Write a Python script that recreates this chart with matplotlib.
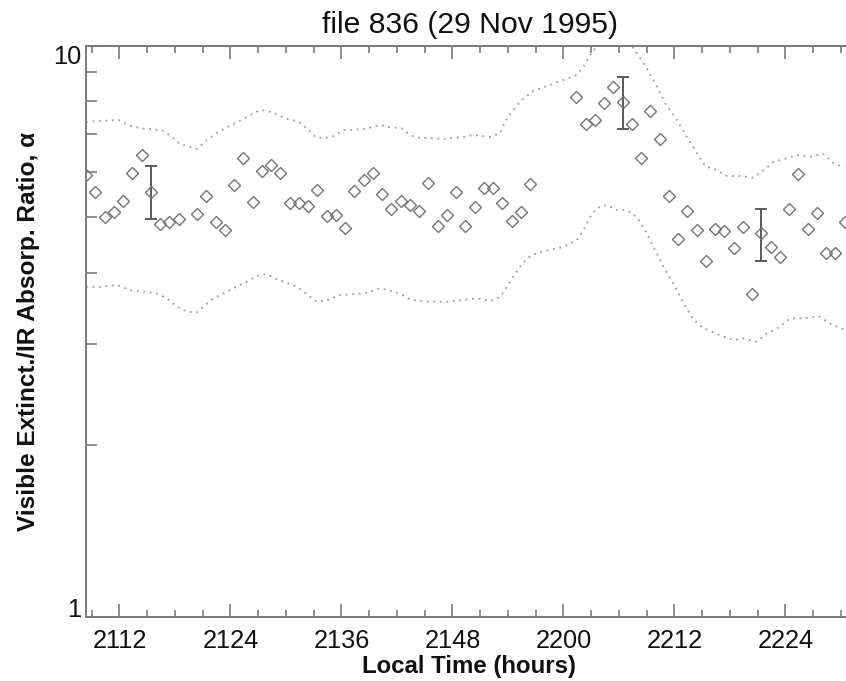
import matplotlib
matplotlib.use('Agg')
import matplotlib.pyplot as plt
from matplotlib.ticker import FixedLocator, NullFormatter

plt.rcParams['font.family'] = ['Liberation Sans', 'DejaVu Sans']

# ---- data (time in minutes after 21:00 local) ----
minutes = [8.38, 9.38, 10.38, 11.38, 12.38, 13.38, 14.38, 15.38, 16.38, 17.38, 18.38,
           20.38, 21.38, 22.38, 23.38, 24.38, 25.38, 26.38, 27.38, 28.38, 29.38,
           30.38, 31.38, 32.38, 33.38, 34.38, 35.38, 36.38, 37.38, 38.38, 39.38,
           40.38, 41.38, 42.38, 43.38, 44.38, 45.38, 46.38, 47.38, 48.38, 49.38,
           50.38, 51.38, 52.38, 53.38, 54.38, 55.38, 56.38,
           61.38, 62.38, 63.38, 64.38, 65.38, 66.38, 67.38, 68.38, 69.38, 70.38,
           71.38, 72.38, 73.38, 74.38, 75.38, 76.38, 77.38, 78.38, 79.38, 80.38,
           81.38, 82.38, 83.38, 84.38, 85.38, 86.38, 87.38, 88.38, 89.38, 90.38]
ratio = [5.93, 5.55, 5.00, 5.12, 5.35, 5.98, 6.43, 5.55, 4.87, 4.91, 4.97,
         5.06, 5.45, 4.91, 4.75, 5.70, 6.36, 5.33, 6.04, 6.18, 5.99,
         5.29, 5.29, 5.24, 5.59, 5.03, 5.05, 4.79, 5.57, 5.81, 5.99,
         5.49, 5.17, 5.35, 5.26, 5.13, 5.75, 4.83, 5.05, 5.53, 4.83,
         5.22, 5.64, 5.64, 5.29, 4.93, 5.12, 5.72,
         8.12, 7.29, 7.41, 7.92, 8.47, 7.97, 7.29, 6.35, 7.68, 6.85,
         5.46, 4.58, 5.13, 4.75, 4.20, 4.77, 4.73, 4.42, 4.82, 3.67,
         4.69, 4.44, 4.27, 5.17, 5.96, 4.77, 5.10, 4.34, 4.34, 4.90]

err_minutes = [15.38, 66.38, 81.38]
err_center = [5.55, 7.97, 4.69]
err_low = [4.97, 7.14, 4.20]
err_high = [6.14, 8.82, 5.17]

upper_minutes = [8.38, 10.27, 11.89, 13.19, 14.38, 15.68, 16.76, 17.62, 18.56, 19.64,
                 20.36, 21.44, 22.52, 23.60, 24.68, 25.76, 26.84, 27.75, 28.83, 30.09,
                 31.35, 32.25, 33.16, 34.05, 35.14, 36.22, 38.02, 39.10, 40.18, 41.26,
                 42.52, 43.43, 44.14, 45.95, 47.03, 48.11, 49.19, 50.27, 52.08, 53.16,
                 53.70, 54.41, 55.49, 56.76, 58.19, 60.00, 61.44, 62.16, 62.89, 63.60,
                 65.50, 67.57, 68.29, 69.01, 69.91, 71.00, 72.25, 73.33, 74.41, 75.32,
                 76.57, 77.65, 79.10, 80.54, 81.62, 82.70, 84.14, 85.22, 86.67, 88.11,
                 89.37, 90.38]
upper_ratio = [7.35, 7.38, 7.41, 7.23, 7.16, 7.13, 7.09, 6.92, 6.72, 6.64,
               6.59, 6.83, 7.03, 7.19, 7.33, 7.49, 7.66, 7.71, 7.59, 7.44,
               7.36, 7.16, 6.92, 6.88, 6.94, 7.11, 7.13, 7.18, 7.26, 7.19,
               7.16, 6.97, 6.90, 6.88, 6.86, 6.89, 6.92, 6.97, 6.92, 7.03,
               7.36, 7.66, 8.03, 8.33, 8.49, 8.70, 8.88, 9.18, 9.62, 9.95,
               10.8, 9.89, 9.50, 9.12, 8.59, 7.92, 7.41, 6.92, 6.48, 6.15,
               6.05, 5.91, 5.91, 5.87, 6.05, 6.25, 6.35, 6.43, 6.39, 6.46,
               6.18, 6.14]

lower_minutes = [8.38, 9.91, 11.71, 13.16, 14.59, 16.03, 17.11, 18.19, 19.28, 20.36,
                 21.08, 22.16, 23.24, 24.32, 25.76, 27.21, 27.92, 28.83, 30.09, 31.17,
                 32.25, 33.33, 34.41, 35.86, 37.30, 38.74, 40.18, 41.26, 42.35, 43.43,
                 44.51, 45.95, 47.38, 48.83, 50.63, 52.08, 53.16, 53.87, 54.59, 55.32,
                 56.03, 57.11, 58.56, 60.00, 61.44, 62.16, 62.89, 63.60, 64.68, 65.76,
                 66.84, 67.92, 68.83, 69.73, 70.81, 71.89, 72.97, 74.05, 75.14, 76.94,
                 78.38, 79.46, 80.90, 81.98, 83.43, 84.51, 85.95, 87.57, 88.83, 90.38]
lower_ratio = [3.78, 3.78, 3.81, 3.73, 3.71, 3.68, 3.61, 3.49, 3.42, 3.41,
               3.49, 3.61, 3.68, 3.76, 3.86, 3.97, 3.98, 3.91, 3.84, 3.78,
               3.67, 3.56, 3.58, 3.66, 3.67, 3.69, 3.76, 3.72, 3.68, 3.59,
               3.57, 3.56, 3.56, 3.58, 3.61, 3.57, 3.63, 3.78, 3.94, 4.10,
               4.24, 4.33, 4.39, 4.44, 4.56, 4.75, 5.01, 5.19, 5.26, 5.15,
               5.15, 5.01, 4.75, 4.44, 4.10, 3.83, 3.54, 3.31, 3.20, 3.11,
               3.05, 3.07, 3.03, 3.13, 3.22, 3.33, 3.33, 3.36, 3.26, 3.18]

xtick_minutes = [12, 24, 36, 48, 60, 72, 84]
xtick_labels = ['2112', '2124', '2136', '2148', '2200', '2212', '2224']
xminor_minutes = [9, 15, 18, 21, 27, 30, 33, 39, 42, 45, 51, 54, 57, 63, 66, 69, 75, 78, 81, 87, 90]
ytick_values = [1, 10]
ytick_labels = ['1', '10']
yminor_values = [2, 3, 4, 5, 6, 7, 8, 9]

W, H = 846, 681
px_per_min = 9.25
left_px, right_px = 86, 862
x_left = 8.38
x_right = x_left + (right_px - left_px) / px_per_min

fig = plt.figure(figsize=(W / 100, H / 100), dpi=100)
ax = fig.add_axes([left_px / W, 1 - 616.7 / H, (right_px - left_px) / W, (616.7 - 45.5) / H])

axis_grey = '#7a7a7a'

ax.plot(upper_minutes, upper_ratio, color='#9c9c9c', lw=1.3, linestyle=(0, (1, 2.6)))
ax.plot(lower_minutes, lower_ratio, color='#9c9c9c', lw=1.3, linestyle=(0, (1, 2.6)))

yerr = [[c - l for c, l in zip(err_center, err_low)],
        [h - c for c, h in zip(err_center, err_high)]]
ax.errorbar(err_minutes, err_center, yerr=yerr, fmt='none', ecolor='#5a5a5a',
            elinewidth=1.4, capsize=4, capthick=1.4)

ax.plot(minutes, ratio, linestyle='none', marker='D', markersize=6.6,
        markerfacecolor='none', markeredgecolor='#747474', markeredgewidth=1.0)

ax.set_yscale('log')
ax.set_ylim(1, 10)
ax.set_xlim(x_left, x_right)

ax.xaxis.set_major_locator(FixedLocator(xtick_minutes))
ax.set_xticklabels(xtick_labels)
ax.xaxis.set_minor_locator(FixedLocator(xminor_minutes))
ax.xaxis.set_minor_formatter(NullFormatter())

ax.yaxis.set_major_locator(FixedLocator(ytick_values))
ax.set_yticklabels(ytick_labels)
ax.yaxis.set_minor_locator(FixedLocator(yminor_values))
ax.yaxis.set_minor_formatter(NullFormatter())

ax.tick_params(axis='both', which='both', direction='in', top=True, right=False,
               color=axis_grey, width=1.2, labelcolor='#111111', labelsize=18.3)
ax.tick_params(axis='x', which='major', length=9.4, pad=8.5)
ax.tick_params(axis='x', which='minor', length=5)
ax.tick_params(axis='y', which='major', length=15, pad=3.6)
ax.tick_params(axis='y', which='minor', length=7.7)

yt = ax.yaxis.get_major_ticks()
yt[0].label1.set_verticalalignment('baseline')
yt[1].label1.set_verticalalignment('top')

for s in ax.spines.values():
    s.set_color(axis_grey)
    s.set_linewidth(1.4)

ax.set_title('file 836 (29 Nov 1995)', fontsize=21.7, color='#111111', pad=8.8)
ax.title.set_x((470 - left_px) / (right_px - left_px))
ax.set_xlabel('Local Time (hours)', fontsize=17.3, fontweight='bold', color='#111111')
ax.xaxis.set_label_coords((469 - left_px) / (right_px - left_px), -0.067)
ax.set_ylabel('Visible Extinct./IR Absorp. Ratio, \u03b1', fontsize=17.6,
              fontweight='bold', color='#111111')
ax.yaxis.set_label_coords(-46 / (right_px - left_px), 0.5)

fig.savefig('out.png', dpi=100)
